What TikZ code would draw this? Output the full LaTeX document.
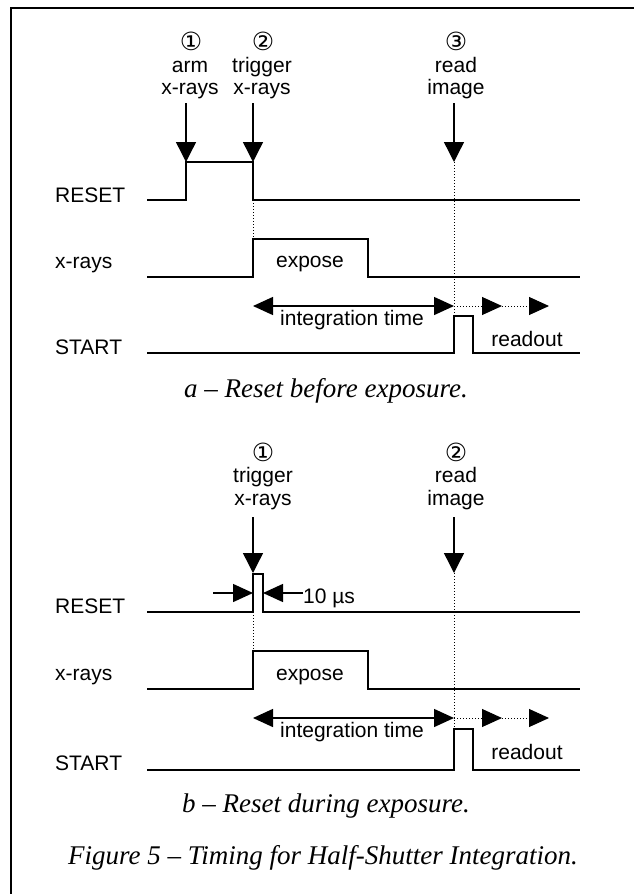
\documentclass[tikz,border=0pt]{standalone}
\usepackage{fontspec}
\setmainfont{Liberation Serif}
\newfontfamily\labfont{Liberation Sans}
\newfontfamily\numfont{DejaVu Sans}
\usetikzlibrary{arrows.meta}

\tikzset{
  sigline/.style={line width=1.5pt},
  evarrow/.style={line width=1.4pt,-{Triangle[length=20pt,width=20pt]}},
  dimarrow/.style={line width=1.4pt,-{Triangle[length=20pt,width=18pt]}},
  spanarrow/.style={line width=1.4pt,{Triangle[length=20pt,width=18pt]}-{Triangle[length=20pt,width=18pt]}},
  dotline/.style={line width=1pt,dotted},
  lbl/.style={font=\labfont\fontsize{21}{24}\selectfont,inner sep=0pt},
  num/.style={font=\numfont\fontsize{25}{28}\selectfont,inner sep=0pt},
  capt/.style={font=\itshape\fontsize{27}{30}\selectfont,inner sep=0pt}
}

\begin{document}
\begin{tikzpicture}[x=1pt,y=-1pt]
\useasboundingbox (0,0) rectangle (634,894);
\draw[line width=2.5pt] (11,894) -- (11,8) -- (634,8);

% a -- reset before exposure
\node[lbl,anchor=base west] (resetA) at (55,202) {RESET};
\node[lbl,anchor=base west] (xrayA) at (55,268) {x-rays};
\node[lbl,anchor=base west] (startA) at (55,354) {START};

\draw[sigline] (147,200) -- (186,200) -- (186,162) -- (253,162) -- (253,200) -- (580,200);
\draw[sigline] (147,277) -- (253,277) -- (253,239) -- (368,239) -- (368,277) -- (580,277);
\draw[sigline] (147,353) -- (454,353) -- (454,316) -- (473,316) -- (473,353) -- (580,353);

\node[num] (n1A) at (191,41) {①};
\node[lbl,anchor=base] (armA) at (190,72) {arm};
\node[lbl,anchor=base] (armxA) at (190,94) {x-rays};
\node[num] (n2A) at (263,41) {②};
\node[lbl,anchor=base] (trigA) at (262,72) {trigger};
\node[lbl,anchor=base] (trigxA) at (262,94) {x-rays};
\node[num] (n3A) at (456,41) {③};
\node[lbl,anchor=base] (readA) at (456,72) {read};
\node[lbl,anchor=base] (imgA) at (456,94) {image};

\coordinate (tArmA) at (186,162);
\coordinate (tTrigA) at (253,162);
\coordinate (tReadA) at (454,162);
\draw[evarrow] (tArmA) ++(0,-59) -- (tArmA);
\draw[evarrow] (tTrigA) ++(0,-59) -- (tTrigA);
\draw[evarrow] (tReadA) ++(0,-59) -- (tReadA);

\draw[dotline] (253,200) -- (253,239);
\draw[dotline] (tReadA) -- (454,316);

\node[lbl,anchor=base] (expA) at (310,267) {expose};
\coordinate (intsA) at (253,306);
\coordinate (inteA) at (454,306);
\draw[spanarrow] (intsA) -- (inteA);
\node[lbl,anchor=base] (intA) at (352,325) {integration time};
\coordinate (ro1A) at (502,306);
\coordinate (ro2A) at (549,306);
\draw[dotline,-{Triangle[length=20pt,width=18pt]}] (inteA) -- (ro1A);
\draw[dotline,-{Triangle[length=20pt,width=18pt]}] (ro1A) -- (ro2A);
\node[lbl,anchor=base] (roA) at (527,346) {readout};

\node[capt,anchor=base] (capA) at (326,397) {a -- Reset before exposure.};

% b -- reset during exposure
\node[lbl,anchor=base west] (resetB) at (55,613) {RESET};
\node[lbl,anchor=base west] (xrayB) at (55,680) {x-rays};
\node[lbl,anchor=base west] (startB) at (55,770) {START};

\draw[sigline] (147,612) -- (253,612) -- (253,574) -- (263,574) -- (263,612) -- (580,612);
\draw[sigline] (147,689) -- (253,689) -- (253,651) -- (368,651) -- (368,689) -- (580,689);
\draw[sigline] (147,770) -- (454,770) -- (454,729) -- (473,729) -- (473,770) -- (580,770);

\node[num] (n1B) at (263,452) {①};
\node[lbl,anchor=base] (trigB) at (263,482) {trigger};
\node[lbl,anchor=base] (trigxB) at (263,505) {x-rays};
\node[num] (n2B) at (456,452) {②};
\node[lbl,anchor=base] (readB) at (456,482) {read};
\node[lbl,anchor=base] (imgB) at (456,505) {image};

\coordinate (tTrigB) at (253,573);
\coordinate (tReadB) at (454,573);
\draw[evarrow] (tTrigB) ++(0,-56) -- (tTrigB);
\draw[evarrow] (tReadB) ++(0,-56) -- (tReadB);

% 10 us pulse width
\coordinate (wlB) at (253,593);
\coordinate (wrB) at (263,593);
\draw[dimarrow] (213,593) -- (wlB);
\node[lbl,anchor=base west] (usB) at (303,603) {10 µs};
\draw[dimarrow] (usB.west |- wrB) -- (wrB);

\draw[dotline] (253,612) -- (253,651);
\draw[dotline] (tReadB) -- (454,729);

\node[lbl,anchor=base] (expB) at (310,680) {expose};
\coordinate (intsB) at (253,718);
\coordinate (inteB) at (454,718);
\draw[spanarrow] (intsB) -- (inteB);
\node[lbl,anchor=base] (intB) at (352,737) {integration time};
\coordinate (ro1B) at (502,718);
\coordinate (ro2B) at (549,718);
\draw[dotline,-{Triangle[length=20pt,width=18pt]}] (inteB) -- (ro1B);
\draw[dotline,-{Triangle[length=20pt,width=18pt]}] (ro1B) -- (ro2B);
\node[lbl,anchor=base] (roB) at (527,759) {readout};

\node[capt,anchor=base] (capB) at (326,812) {b -- Reset during exposure.};

\node[capt,anchor=base] (figcap) at (323,864) {Figure 5 -- Timing for Half-Shutter Integration.};
\end{tikzpicture}
\end{document}
